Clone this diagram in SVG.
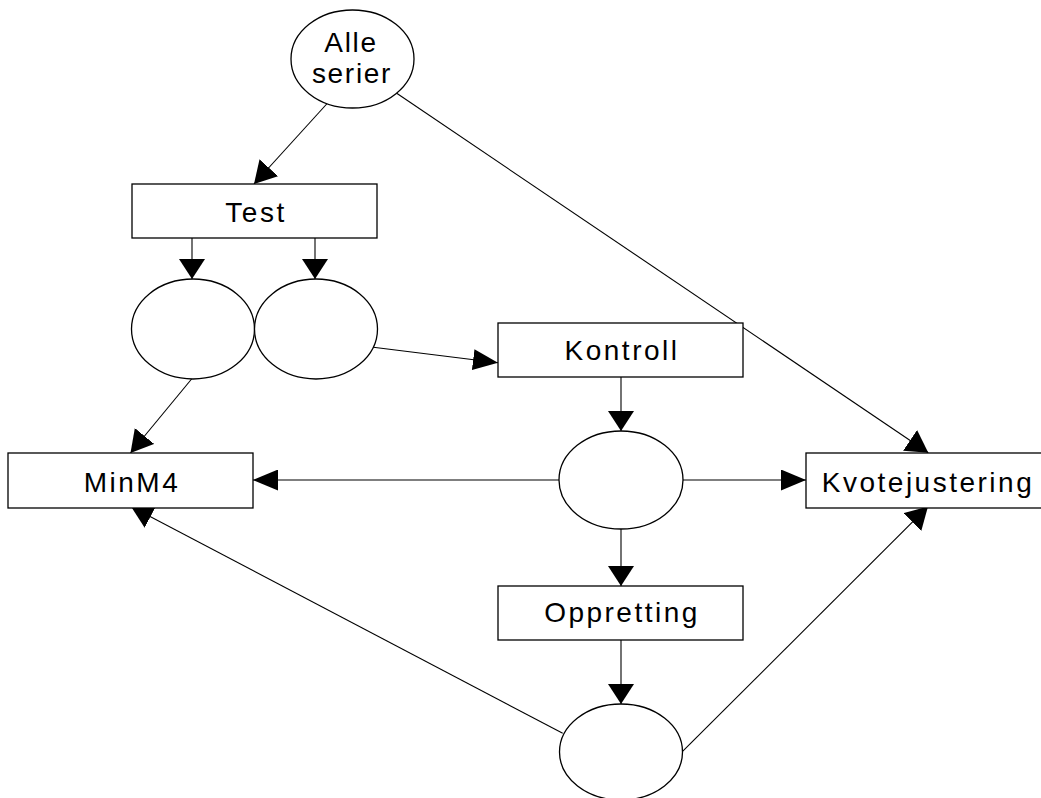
<svg xmlns="http://www.w3.org/2000/svg" width="1041" height="798" viewBox="0 0 1041 798">
<style>
.edge{stroke:#000;stroke-width:1.1;fill:none}
.node{fill:#fff;stroke:#000;stroke-width:1.3}
.lbl{font-family:"Liberation Sans",Arial,sans-serif;font-size:28px;letter-spacing:2.5px;fill:#000;text-anchor:middle}
.lbl2{letter-spacing:1.7px}
</style>
<defs>
<marker id="av" markerUnits="userSpaceOnUse" viewBox="0 0 20 26" markerWidth="20" markerHeight="26" refX="20" refY="13" orient="auto"><path d="M0,0 L20,13 L0,26 z" fill="#000"/></marker>
<marker id="ah" markerUnits="userSpaceOnUse" viewBox="0 0 25 21" markerWidth="25" markerHeight="21" refX="25" refY="10.5" orient="auto"><path d="M0,0 L25,10.5 L0,21 z" fill="#000"/></marker>
<marker id="ad" markerUnits="userSpaceOnUse" viewBox="0 0 22 25" markerWidth="22" markerHeight="25" refX="22" refY="12.5" orient="auto"><path d="M0,0 L22,12.5 L0,25 z" fill="#000"/></marker>
</defs>
<g id="connectors">
<line class="edge" x1="326.7" y1="104" x2="254" y2="184" marker-end="url(#ad)"/>
<line class="edge" x1="396.7" y1="93.3" x2="928.3" y2="452.7" marker-end="url(#ad)"/>
<line class="edge" x1="192" y1="238" x2="192" y2="279" marker-end="url(#av)"/>
<line class="edge" x1="315" y1="238" x2="315" y2="279" marker-end="url(#av)"/>
<line class="edge" x1="373.3" y1="347.3" x2="498" y2="362.7" marker-end="url(#ah)"/>
<line class="edge" x1="192" y1="378.5" x2="130.5" y2="453" marker-end="url(#ad)"/>
<line class="edge" x1="621" y1="377" x2="621" y2="431" marker-end="url(#av)"/>
<line class="edge" x1="559" y1="480" x2="253" y2="480" marker-end="url(#ah)"/>
<line class="edge" x1="683" y1="480" x2="806" y2="480" marker-end="url(#ah)"/>
<line class="edge" x1="621" y1="529" x2="621" y2="586" marker-end="url(#av)"/>
<line class="edge" x1="621" y1="640" x2="621" y2="704" marker-end="url(#av)"/>
<line class="edge" x1="562.7" y1="733.3" x2="131" y2="506.5" marker-end="url(#ad)"/>
<line class="edge" x1="682.3" y1="751.7" x2="928" y2="506.5" marker-end="url(#ad)"/>
</g>
<g id="alle-serier">
<ellipse class="node" cx="352.5" cy="59" rx="61.5" ry="49"/>
<text class="lbl lbl2" x="351" y="52">Alle</text>
<text class="lbl lbl2" x="352" y="83">serier</text>
</g>
<g id="test">
<rect class="node" x="132" y="184" width="245" height="54"/>
<text class="lbl" x="256" y="221.5">Test</text>
</g>
<g id="place-1"><ellipse class="node" cx="193" cy="329" rx="61.5" ry="50"/></g>
<g id="place-2"><ellipse class="node" cx="316" cy="329" rx="61.5" ry="50"/></g>
<g id="kontroll">
<rect class="node" x="498" y="323" width="245" height="54"/>
<text class="lbl" x="622" y="359.5">Kontroll</text>
</g>
<g id="place-3"><ellipse class="node" cx="621" cy="480" rx="62" ry="49"/></g>
<g id="minm4">
<rect class="node" x="8" y="453" width="245" height="55"/>
<text class="lbl" x="132" y="492">MinM4</text>
</g>
<g id="kvotejustering">
<rect class="node" x="806" y="453" width="245" height="55"/>
<text class="lbl" x="928" y="491.5">Kvotejustering</text>
</g>
<g id="oppretting">
<rect class="node" x="498" y="586" width="245" height="54"/>
<text class="lbl" x="622" y="621.5">Oppretting</text>
</g>
<g id="place-4"><ellipse class="node" cx="621" cy="752" rx="61.5" ry="48"/></g>
</svg>
